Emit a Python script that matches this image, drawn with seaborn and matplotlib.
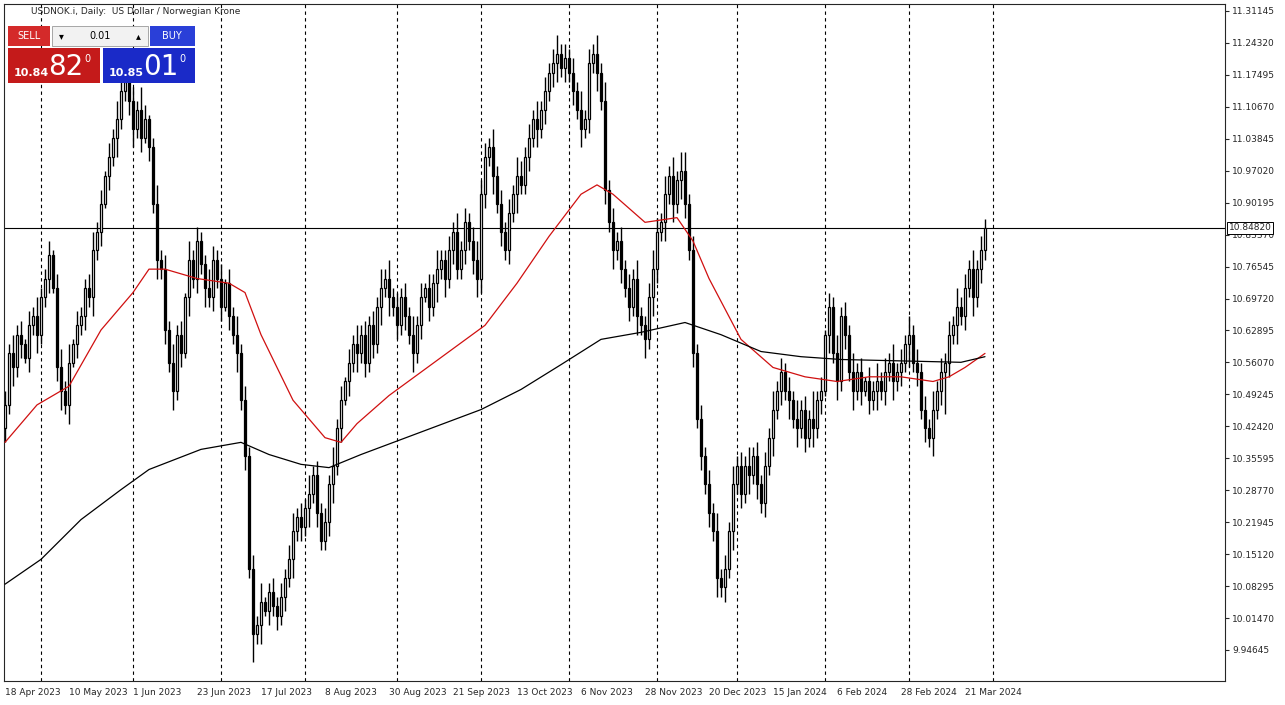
import numpy as np
import pandas as pd
import matplotlib
matplotlib.use("Agg")
import matplotlib.pyplot as plt
import seaborn as sns
from matplotlib.patches import Rectangle

sns.set_style("white")
plt.rcParams['font.family'] = ['DejaVu Sans']

# daily closes, USDNOK, from 18 Apr 2023
closes = [
    10.47, 10.58, 10.55, 10.62, 10.60, 10.57, 10.64, 10.66, 10.62, 10.70,
    10.74, 10.79, 10.72, 10.55, 10.50, 10.47, 10.56, 10.60, 10.64, 10.66,
    10.72, 10.70, 10.80, 10.84, 10.90, 10.96, 11.00, 11.04, 11.08, 11.14,
    11.16, 11.12, 11.06, 11.10, 11.04, 11.08, 11.02, 10.90, 10.78, 10.76,
    10.63, 10.56, 10.50, 10.62, 10.58, 10.70, 10.78, 10.74, 10.82, 10.77,
    10.72, 10.70, 10.78, 10.74, 10.68, 10.73, 10.66, 10.62, 10.58, 10.48,
    10.36, 10.12, 9.98, 10.00, 10.05, 10.03, 10.07, 10.04, 10.02, 10.06,
    10.10, 10.14, 10.20, 10.23, 10.21, 10.25, 10.28, 10.32, 10.24, 10.18,
    10.22, 10.30, 10.34, 10.42, 10.48, 10.52, 10.56, 10.60, 10.58, 10.62,
    10.56, 10.64, 10.60, 10.68, 10.72, 10.74, 10.70, 10.68, 10.64, 10.70,
    10.66, 10.62, 10.58, 10.64, 10.70, 10.72, 10.68, 10.73, 10.76, 10.78,
    10.74, 10.80, 10.84, 10.76, 10.80, 10.86, 10.82, 10.78, 10.74, 10.92,
    11.00, 11.02, 10.96, 10.90, 10.84, 10.80, 10.88, 10.92, 10.96, 10.94,
    11.00, 11.04, 11.08, 11.06, 11.10, 11.14, 11.18, 11.20, 11.22, 11.19,
    11.21, 11.18, 11.14, 11.10, 11.06, 11.08, 11.20, 11.22, 11.18, 11.12,
    10.93, 10.86, 10.80, 10.82, 10.76, 10.72, 10.68, 10.74, 10.66, 10.64,
    10.61, 10.70, 10.76, 10.84, 10.86, 10.92, 10.96, 10.90, 10.95, 10.97,
    10.90, 10.80, 10.58, 10.44, 10.36, 10.30, 10.24, 10.20, 10.10, 10.08,
    10.12, 10.20, 10.30, 10.34, 10.28, 10.34, 10.32, 10.36, 10.30, 10.26,
    10.34, 10.40, 10.46, 10.50, 10.54, 10.50, 10.48, 10.44, 10.42, 10.46,
    10.40, 10.44, 10.42, 10.48, 10.50, 10.62, 10.68, 10.58, 10.52, 10.66,
    10.62, 10.54, 10.50, 10.54, 10.50, 10.52, 10.48, 10.50, 10.52, 10.50,
    10.54, 10.56, 10.52, 10.54, 10.56, 10.60, 10.62, 10.56, 10.54, 10.46,
    10.42, 10.40, 10.46, 10.50, 10.54, 10.56, 10.62, 10.64, 10.68, 10.66,
    10.72, 10.76, 10.70, 10.76, 10.80, 10.848,
]
first_open = 10.42

# wick lengths above / below the body, in 0.01 units, one digit per bar
upper_wicks = ("3242313242 2313424132 2342313243 4232531242 3242314232 2432313242 "
               "3232412323 2342324232 3242313242 3232424232 3242313242 2324232343 "
               "3242323243 2324232342 3232423242 4232323242 2343242424 4232323242 "
               "3242324232 3242323242 3262313242 3242313242 3242324232 3242323242 324232")
lower_wicks = ("3242313242 2313424132 3242313242 2342313242 3242314232 4232313242 "
               "3262413232 3242324232 2342313242 3232424232 3242313242 4232232343 "
               "3242323242 2324232342 3232423242 3242323242 4243242424 3232323242 "
               "3242324232 3242324242 3242314242 3242313242 3242325232 3242393242 324232")

# moving averages (bar index, value)
red_ma_idx = [0, 8, 16, 24, 32, 36, 40, 48, 56, 60, 64, 72, 80, 84, 88, 96, 104, 112, 120,
              128, 136, 144, 148, 152, 160, 168, 172, 176, 184, 192, 200, 208, 216, 224,
              232, 236, 240, 245]
red_ma = [10.39, 10.47, 10.51, 10.63, 10.71, 10.76, 10.76, 10.74, 10.73, 10.71, 10.62, 10.48,
          10.40, 10.39, 10.43, 10.49, 10.54, 10.59, 10.64, 10.73, 10.83, 10.92, 10.94, 10.92,
          10.86, 10.87, 10.82, 10.74, 10.61, 10.55, 10.53, 10.52, 10.53, 10.53, 10.52, 10.53,
          10.55, 10.58]
black_ma_idx = [0, 9, 19, 29, 36, 49, 59, 66, 74, 81, 89, 99, 109, 119, 129, 139, 149, 159,
                170, 179, 189, 199, 209, 219, 229, 239, 245]
black_ma = [10.087, 10.140, 10.225, 10.289, 10.332, 10.375, 10.390, 10.364, 10.343, 10.336,
            10.364, 10.396, 10.428, 10.460, 10.503, 10.556, 10.610, 10.625, 10.646, 10.620,
            10.584, 10.573, 10.567, 10.565, 10.563, 10.561, 10.573]

y_ticks = [11.31145, 11.24320, 11.17495, 11.10670, 11.03845, 10.97020, 10.90195, 10.83370,
           10.76545, 10.69720, 10.62895, 10.56070, 10.49245, 10.42420, 10.35595, 10.28770,
           10.21945, 10.15120, 10.08295, 10.01470, 9.94645]
last_price = 10.84820
closed_days = ["2023-12-25", "2024-01-01"]

n = len(closes)
dates = pd.bdate_range("2023-04-18", periods=n + 10, freq="C", holidays=closed_days)
closes = np.array(closes)
opens = np.r_[first_open, closes[:-1]]
up = np.array([int(c) for c in upper_wicks.replace(" ", "")]) * 0.01
dn = np.array([int(c) for c in lower_wicks.replace(" ", "")]) * 0.01
highs = np.maximum(opens, closes) + up
lows = np.minimum(opens, closes) - dn
idx = np.arange(n)

fig = plt.figure(figsize=(12.85, 7.05), dpi=100)
W, H = 1285, 705
ax = fig.add_axes([4 / W, 1 - 681 / H, (1225 - 4) / W, (681 - 4) / H])
ax.set_xlim(-0.25, 305)
ax.set_ylim(9.8802, 11.3264)

# month gridlines
month_starts = [i for i in range(1, len(dates)) if dates[i].month != dates[i - 1].month]
for m in month_starts:
    ax.axvline(m, color="black", lw=0.8, ls=(0, (3, 3)), zorder=0)

# candles
ax.vlines(idx, lows, highs, color="black", lw=1, zorder=2)
bull = closes >= opens
bottom = np.minimum(opens, closes)
height = np.maximum(np.abs(closes - opens), 0.002)
ax.bar(idx[bull], height[bull], bottom=bottom[bull], width=0.65, color="white",
       edgecolor="black", lw=0.9, zorder=3)
ax.bar(idx[~bull], height[~bull], bottom=bottom[~bull], width=0.65, color="black",
       edgecolor="black", lw=0.9, zorder=3)

sns.lineplot(x=red_ma_idx, y=red_ma, ax=ax, color="#d01010", lw=0.9, zorder=4)
sns.lineplot(x=black_ma_idx, y=black_ma, ax=ax, color="black", lw=0.9, zorder=4)

ax.axhline(last_price, color="black", lw=0.8, zorder=1)

ax.yaxis.tick_right()
ax.set_yticks(y_ticks)
ax.set_yticklabels([f"{v:.5f}" for v in y_ticks], fontsize=6.5)
ax.tick_params(axis="y", length=3, pad=2)
ax.text(1.003, last_price, f"{last_price:.5f}", transform=ax.get_yaxis_transform(),
        fontsize=6.5, va="center", ha="left",
        bbox=dict(facecolor="white", edgecolor="black", lw=0.7, pad=1.2))
tick_pos = list(range(0, n, 16))
ax.set_xticks(tick_pos)
ax.set_xticklabels([f"{dates[i].day} {dates[i]:%b %Y}" for i in tick_pos], fontsize=6.5, ha="left")
ax.tick_params(axis="x", length=3, pad=2)
for s in ax.spines.values():
    s.set_linewidth(0.8)

ax.text(0.022, 0.995, "USDNOK.i, Daily:  US Dollar / Norwegian Krone", transform=ax.transAxes,
        fontsize=6.5, va="top")

# trade panel
def box(x0, y0, x1, y1, fc, ec="none"):
    fig.patches.append(Rectangle((x0 / W, 1 - y1 / H), (x1 - x0) / W, (y1 - y0) / H,
                                 transform=fig.transFigure, facecolor=fc, edgecolor=ec, lw=0.6))

box(8, 26, 50, 46, "#d42a2a")
box(52, 26, 148, 46, "#f2f2f2", "#999999")
box(150, 26, 195, 46, "#2a3fd8")
box(8, 48, 100, 83, "#c41a1a")
box(103, 48, 195, 83, "#1a2ac8")
fig.text(29 / W, 1 - 36 / H, "SELL", color="white", fontsize=7, ha="center", va="center")
fig.text(172 / W, 1 - 36 / H, "BUY", color="white", fontsize=7, ha="center", va="center")
fig.text(100 / W, 1 - 36 / H, "0.01", color="black", fontsize=7, ha="center", va="center")
fig.text(61 / W, 1 - 36 / H, "▾", color="black", fontsize=7, ha="center", va="center")
fig.text(138 / W, 1 - 36 / H, "▴", color="black", fontsize=7, ha="center", va="center")
fig.text(14 / W, 1 - 73 / H, "10.84", color="white", fontsize=8, fontweight="bold", va="center")
fig.text(48 / W, 1 - 67 / H, "82", color="white", fontsize=20, va="center")
fig.text(84 / W, 1 - 59 / H, "0", color="white", fontsize=7, va="center")
fig.text(109 / W, 1 - 73 / H, "10.85", color="white", fontsize=8, fontweight="bold", va="center")
fig.text(143 / W, 1 - 67 / H, "01", color="white", fontsize=20, va="center")
fig.text(179 / W, 1 - 59 / H, "0", color="white", fontsize=7, va="center")

fig.savefig("out.png", dpi=100)
